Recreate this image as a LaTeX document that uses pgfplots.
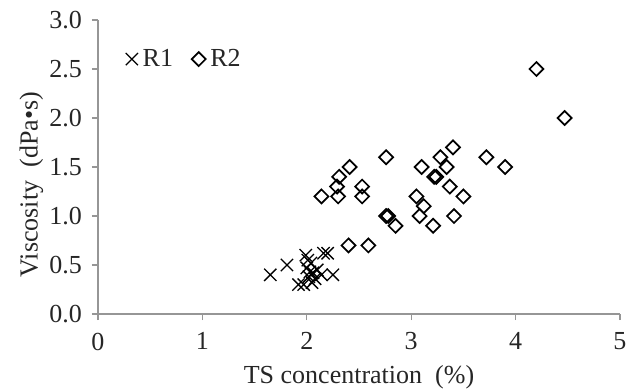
\documentclass[border=0pt]{standalone}
\usepackage{fontspec}
\setmainfont{Liberation Serif}
\usepackage{pgfplots}
\pgfplotsset{compat=1.18}
\definecolor{axgray}{RGB}{150,150,150}
\begin{document}
\begin{tikzpicture}
\begin{axis}[
  scale only axis, width=391.5pt, height=220.5pt,
  xmin=0, xmax=5, ymin=0, ymax=3,
  axis x line=bottom, axis y line=left,
  axis line style={-, axgray, line width=0.8pt},
  xtick={0,1,2,3,4,5}, ytick={0,0.5,1,1.5,2,2.5,3},
  yticklabel style={/pgf/number format/.cd, fixed, fixed zerofill, precision=1, /tikz/.cd, xshift=-4pt},
  xticklabel style={yshift=-6pt},
  tick align=outside, major tick length=4.5pt,
  tick style={axgray, line width=0.8pt},
  /pgf/number format/assume math mode=true,
  tick label style={font=\fontsize{19.5}{22}\selectfont, text=black!85},
  xlabel={TS concentration\ \ (\%)},
  ylabel={Viscosity\ \ (dPa•s)},
  label style={font=\fontsize{19.5}{22}\selectfont, text=black!85},
  xlabel style={at={(rel axis cs:0.5,0)}, anchor=center, yshift=-47.5pt},
  ylabel style={at={(rel axis cs:0,0.44)}, anchor=center, yshift=50pt},
  legend columns=2,
  legend style={draw=none, fill=none, at={(rel axis cs:0.045,0.867)}, anchor=west,
    font=\fontsize{19.5}{22}\selectfont, text=black!85,
    /tikz/every odd column/.append style={column sep=1.5pt},
    /tikz/every even column/.append style={column sep=12pt}},
  clip=false,
]
\addplot[only marks, mark=x, mark size=6.5pt, line width=1pt, black] coordinates {
(1.65,0.40) (1.81,0.50) (1.92,0.30) (1.97,0.30) (1.99,0.60) (2.00,0.47)
(2.01,0.55) (2.02,0.38) (2.03,0.43) (2.04,0.52) (2.05,0.32) (2.06,0.42)
(2.08,0.36) (2.10,0.45) (2.14,0.40) (2.16,0.62) (2.20,0.62) (2.25,0.40)
};
\addlegendentry{R1}
\addplot[only marks, mark=square, mark size=3.7pt, mark options={rotate=45}, line width=1.3pt, black] coordinates {
(2.14,1.2) (2.29,1.3) (2.30,1.2) (2.31,1.4) (2.41,1.5) (2.53,1.3) (2.53,1.2)
(2.76,1.6) (2.76,1.0) (2.78,1.0) (2.85,0.9) (2.40,0.7) (2.59,0.7)
(3.05,1.2) (3.08,1.0) (3.10,1.5) (3.12,1.1) (3.21,0.9) (3.22,1.4) (3.24,1.4)
(3.28,1.6) (3.34,1.5) (3.37,1.3) (3.40,1.7) (3.41,1.0) (3.50,1.2)
(3.72,1.6) (3.90,1.5) (4.20,2.5) (4.47,2.0)
};
\addlegendentry{R2}
\end{axis}
\pgfresetboundingbox
\path[use as bounding box] (-73.5pt,-57pt) rectangle (400.5pt,235.5pt);
\end{tikzpicture}
\end{document}
